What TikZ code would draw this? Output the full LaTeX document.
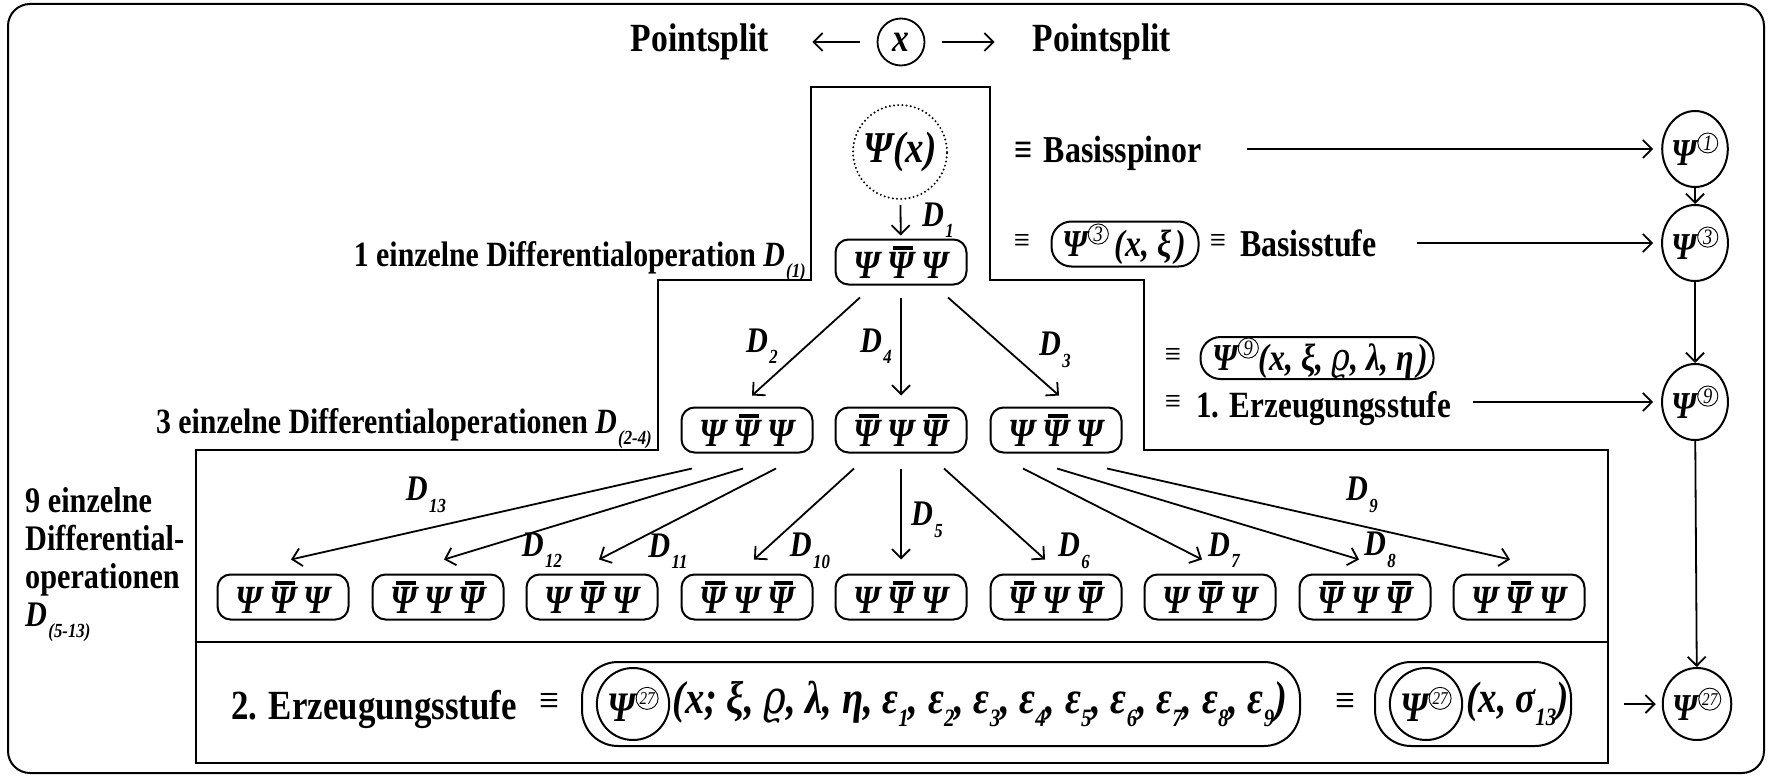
\documentclass[tikz,border=0pt]{standalone}
\usepackage{fontspec}
\setmainfont{Liberation Serif}[FakeStretch=0.84]
\newfontfamily\rhofont{DejaVu Serif}[FakeStretch=0.84]
\usetikzlibrary{arrows.meta,shapes.geometric}

\newcommand\Ps{{\bfseries\itshape Ψ}}
\newcommand\Pb{{\setbox0\hbox{\bfseries\itshape Ψ}\rlap{\kern0.22\wd0\raisebox{\dimexpr\ht0+0.06em\relax}{\rule{0.74\wd0}{0.09em}}}\box0}}
\newcommand\PPP{\Ps\hspace{0.18em}\Pb\hspace{0.18em}\Ps}
\newcommand\PBP{\Pb\hspace{0.18em}\Ps\hspace{0.18em}\Pb}
\newcommand\cn[2][22]{\raisebox{0.40em}{\tikz[baseline=(cnn.base)]\node[draw,circle,minimum width=0pt,minimum height=0pt,minimum size=0pt,inner sep=1pt,line width=0.9pt,font=\fontsize{#1}{#1}\selectfont\mdseries\itshape](cnn){#2};}}
\newcommand\Dl[2][20]{{\bfseries\itshape D}\kern0.04em\raisebox{-0.32em}{\fontsize{#1}{#1}\selectfont\bfseries\itshape #2}}
\newcommand\sub[1]{\raisebox{-0.3em}{\fontsize{25}{25}\selectfont #1}}
\newcommand\vrho{{\rhofont\mdseries\itshape ϱ}}

\begin{document}
\begin{tikzpicture}[x=1pt,y=-1pt,
  txt/.style={font=\fontsize{38}{44}\selectfont\bfseries, inner sep=0},
  lbl/.style={font=\fontsize{35.5}{36}\selectfont\bfseries, inner sep=0},
  ttl/.style={font=\fontsize{40}{44}\selectfont\bfseries, inner sep=0},
  pbox/.style={draw, line width=2, rounded corners=13, minimum width=131, minimum height=45, inner sep=0, font=\fontsize{40}{40}\selectfont\bfseries\itshape},
  arr/.style={line width=1.8, -{Straight Barb[length=9,width=18]}},
  dl/.style={font=\fontsize{36}{36}\selectfont\bfseries\itshape, inner sep=0},
  rc/.style={draw, ellipse, line width=2, minimum width=56, minimum height=76, inner sep=0, font=\fontsize{38}{38}\selectfont\bfseries\itshape},
  pill/.style={draw, line width=2, rounded corners=20, inner sep=0},
  stair/.style={line width=2.6},
  eqv/.style={font=\fontsize{34}{34}\selectfont, inner sep=0},
  mth/.style={font=\fontsize{38}{38}\selectfont\bfseries\itshape, inner sep=0},
  big/.style={font=\fontsize{46}{46}\selectfont\bfseries\itshape, inner sep=0},
  inc/.style={draw, ellipse, line width=2, minimum width=68, minimum height=72, inner sep=0, font=\fontsize{42}{42}\selectfont\bfseries\itshape}
]
\useasboundingbox (0,0) rectangle (1773,776);
\draw[line width=2, rounded corners=22] (8,4) rectangle (1764,773);

% header
\node[ttl, anchor=base] (pl) at (700,52) {Pointsplit};
\node[ttl, anchor=base] (pr) at (1102,52) {Pointsplit};
\node[draw, circle, minimum size=47, inner sep=0, line width=1.8, font=\fontsize{40}{40}\selectfont\bfseries\itshape] (xx) at (901,42) {x};
\draw[arr, shorten <=17, shorten >=43] (xx.west) -- (xx.west -| pl.east);
\draw[arr, shorten <=17, shorten >=38] (xx.east) -- (xx.east -| pr.west);

% staircase frame
\draw[stair] (811,87) -- (990,87) -- (990,280) -- (1144,280) -- (1144,450) -- (1608,450) -- (1608,763) -- (196,763) -- (196,450) -- (658,450) -- (658,280) -- (811,280) -- cycle;
\draw[stair] (196,642) -- (1608,642);

% level 0 / 1
\node[draw, circle, minimum size=94, inner sep=0, line width=2.2, dash pattern=on 0pt off 4.2pt, line cap=round, font=\fontsize{44}{44}\selectfont\bfseries\itshape] (psx) at (900,152) {Ψ(x)};
\node[pbox] (l1) at (901,262) {\PPP};
\draw[arr, shorten <=5, shorten >=3] (psx) -- (l1);
\node[dl] at (938,220) {\Dl{1}};

% level 2
\node[pbox] (a2) at (747,430) {\PPP};
\node[pbox] (b2) at (901,430) {\PBP};
\node[pbox] (c2) at (1056,430) {\PPP};
\draw[arr] ([xshift=-41,yshift=-12]l1.south) -- ([xshift=5,yshift=11]a2.north);
\draw[arr] ([yshift=-12]l1.south) -- ([yshift=11]b2.north);
\draw[arr] ([xshift=47,yshift=-12]l1.south) -- ([xshift=3,yshift=11]c2.north);
\node[dl] at (762,346) {\Dl{2}};
\node[dl] at (876,346) {\Dl{4}};
\node[dl] at (1055,350) {\Dl{3}};

% level 3
\node[pbox] (L1) at (283,597) {\PPP};
\node[pbox] (L2) at (438,597) {\PBP};
\node[pbox] (L3) at (592,597) {\PPP};
\node[pbox] (L4) at (747,597) {\PBP};
\node[pbox] (L5) at (901,597) {\PPP};
\node[pbox] (L6) at (1056,597) {\PBP};
\node[pbox] (L7) at (1210,597) {\PPP};
\node[pbox] (L8) at (1365,597) {\PBP};
\node[pbox] (L9) at (1519,597) {\PPP};
\draw[arr] ([xshift=-55,yshift=-15]a2.south) -- ([xshift=8,yshift=14]L1.north);
\draw[arr] ([xshift=-4,yshift=-15]a2.south) -- ([xshift=6,yshift=14]L2.north);
\draw[arr] ([xshift=29,yshift=-15]a2.south) -- ([xshift=7,yshift=14]L3.north);
\draw[arr] ([xshift=-47,yshift=-15]b2.south) -- ([xshift=7,yshift=14]L4.north);
\draw[arr] ([yshift=-15]b2.south) -- ([yshift=14]L5.north);
\draw[arr] ([xshift=43,yshift=-15]b2.south) -- ([xshift=-11,yshift=14]L6.north);
\draw[arr] ([xshift=-33,yshift=-15]c2.south) -- ([xshift=-8,yshift=14]L7.north);
\draw[arr] ([xshift=1,yshift=-15]c2.south) -- ([xshift=-6,yshift=14]L8.north);
\draw[arr] ([xshift=51,yshift=-15]c2.south) -- ([xshift=-9,yshift=14]L9.north);
\node[dl] at (426,495) {\Dl{13}};
\node[dl] at (542,550) {\Dl{12}};
\node[dl] at (668,551) {\Dl{11}};
\node[dl] at (810,551) {\Dl{10}};
\node[dl] at (927,520) {\Dl{5}};
\node[dl] at (1074,551) {\Dl{6}};
\node[dl] at (1224,550) {\Dl{7}};
\node[dl] at (1380,550) {\Dl{8}};
\node[dl] at (1362,495) {\Dl{9}};

% left labels
\node[lbl, anchor=base east] (t1) at (806,266) {1 einzelne Differentialoperation \Dl{(1)}};
\node[lbl, anchor=base east] (t3) at (652,433) {3 einzelne Differentialoperationen \Dl{(2-4)}};
\node[lbl, anchor=north west, align=left, font=\fontsize{36}{38}\selectfont\bfseries] (t9) at (25,487) {9 einzelne\\Differential-\\operationen\\\Dl{(5-13)}};

% right column
\node[rc] (r1) at (1695,149) {Ψ\cn{1}};
\node[rc] (r3) at (1695,243) {Ψ\cn{3}};
\node[rc] (r9) at (1695,402) {Ψ\cn{9}};
\node[rc, minimum width=68, minimum height=72] (r27) at (1697,704) {Ψ\cn[18]{27}};
\draw[arr] (r1) -- (r3);
\draw[arr] (r3) -- (r9);
\draw[arr] (r9) -- (r27);

% right texts
\node[txt, anchor=base west] (bsp) at (1014,162) {≡\hspace{0.3em}Basisspinor};
\draw[arr, shorten <=45, shorten >=8] (r1 -| bsp.east) -- (r1);

\node[eqv] (e3a) at (1022,243) {≡};
\node[pill, minimum width=147, minimum height=45] (b3) at (1125,244) {};
\node[mth, anchor=west] (b3t) at (1062,244) {Ψ\cn{3}\hspace{0.15em}(x, ξ\hspace{0.1em})};
\node[eqv] (e3b) at (1218,243) {≡};
\node[txt, anchor=base west] (bst) at (1240,256) {Basisstufe};
\draw[arr, shorten <=40, shorten >=8] (r3 -| bst.east) -- (r3);

\node[eqv] (e9a) at (1173,357) {≡};
\node[pill, minimum width=233, minimum height=42] (b9) at (1317,358) {};
\node[mth, anchor=west] (b9t) at (1212,358) {Ψ\cn{9}(x, ξ, \vrho, λ, η\hspace{0.1em})};
\node[eqv] (e9b) at (1173,404) {≡};
\node[txt, anchor=base west, font=\fontsize{37}{37}\selectfont\bfseries] (erz1) at (1196,417) {1. Erzeugungsstufe};
\draw[arr, shorten <=22, shorten >=8] (r9 -| erz1.east) -- (r9);

% bottom row
\node[txt, anchor=base west, font=\fontsize{41.5}{44}\selectfont\bfseries] (erz2) at (231,719) {2. Erzeugungsstufe};
\node[eqv, font=\fontsize{42}{42}\selectfont] (e27a) at (549,704) {≡};
\node[pill, rounded corners=36, minimum width=718, minimum height=84] (bb1) at (941,704) {};
\node[inc] (c1) at (633,704) {Ψ\cn[18]{27}};
\node[big, anchor=west] (bb1t) at (672,704) {(x; ξ, \vrho, λ, η, ε\sub{1}, ε\sub{2}, ε\sub{3}, ε\sub{4}, ε\sub{5}, ε\sub{6}, ε\sub{7}, ε\sub{8}, ε\sub{9})};
\node[eqv, font=\fontsize{42}{42}\selectfont] (e27b) at (1345,704) {≡};
\node[pill, rounded corners=36, minimum width=196, minimum height=84] (bb2) at (1473,704) {};
\node[inc] (c2b) at (1426,704) {Ψ\cn[18]{27}};
\node[big, anchor=west, font=\fontsize{44}{44}\selectfont\bfseries\itshape] (bb2t) at (1466,704) {(x, σ\sub{13})};
\draw[arr, shorten <=52, shorten >=6] (r27 -| bb2.east) -- (r27);
\end{tikzpicture}
\end{document}
